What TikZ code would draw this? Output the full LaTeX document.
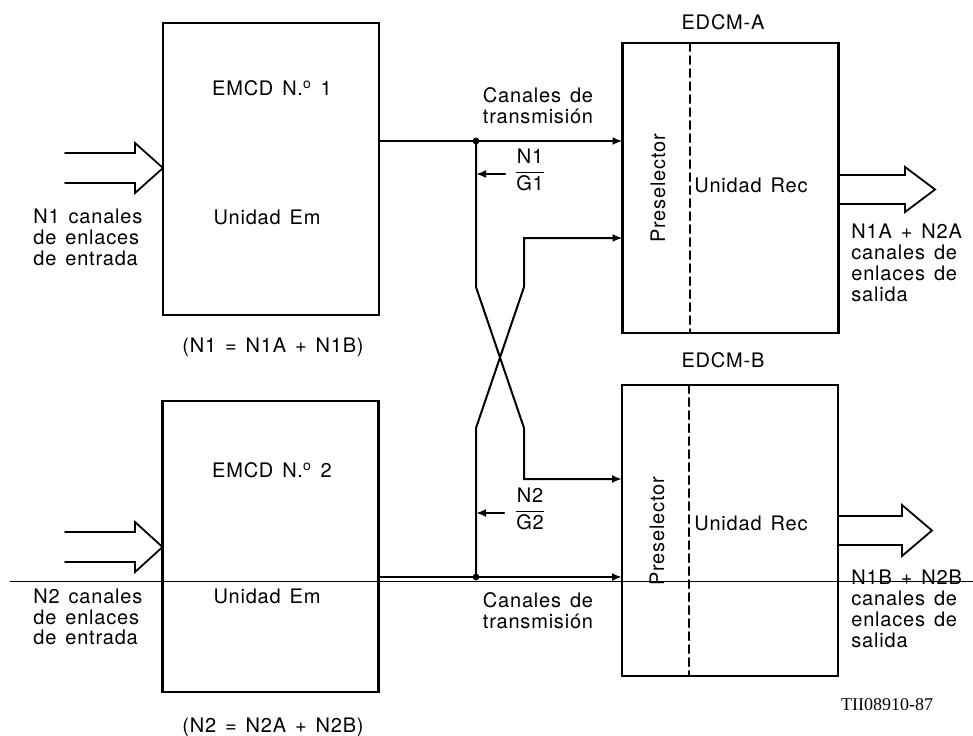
\documentclass[tikz,border=0pt]{standalone}
\usepackage{fontspec}
\setmainfont{TeX Gyre Heros}[LetterSpace=4, WordSpace=1.4]
\newfontfamily\codefont{Liberation Serif}
\usetikzlibrary{arrows.meta, positioning, calc}

\begin{document}
\begin{tikzpicture}[x=0.5pt,y=-0.5pt, line cap=round, >={Latex[length=5pt,width=4pt]},
  unit/.style={draw, line width=1.2pt, minimum width=108pt, inner sep=0pt, outer sep=0pt},
  conn/.style={line width=1pt},
  hollow/.style={line width=0.9pt, line join=miter},
  lbl/.style={font=\fontsize{10}{10.4}\selectfont, inner sep=0pt},
  jdot/.style={circle, fill, inner sep=0pt, minimum size=3.4pt}]

  \useasboundingbox (0,0) rectangle (973,735);

  %--- bloques emisores
  \node[unit, minimum height=146pt] (emcd1) at (271,169) {};
  \node[unit, minimum height=145.5pt] (emcd2) at (270.5,546.5) {};
  \node[lbl] (t1) at (272,88) {EMCD N.\textsuperscript{o} 1};
  \node[lbl] (t2) at (272,470) {EMCD N.\textsuperscript{o} 2};
  \node[lbl] (em1) at (267,217) {Unidad Em};
  \node[lbl] (em2) at (267,596) {Unidad Em};
  \node[lbl] (eq1) at (273,347) {(N1 = N1A + N1B)};
  \node[lbl] (eq2) at (273,727) {(N2 = N2A + N2B)};

  %--- bloques receptores
  \node[unit, minimum height=145pt] (edcmA) at (730.5,188) {};
  \node[unit, minimum height=145.5pt] (edcmB) at (730,530.5) {};
  \node[lbl] (nA) at (723,22) {EDCM-A};
  \node[lbl] (nB) at (723,360) {EDCM-B};
  \draw[line width=1pt, dash pattern=on 4pt off 2.5pt] (690,0 |- edcmA.north) -- (690,0 |- edcmA.south);
  \draw[line width=1pt, dash pattern=on 4pt off 2.5pt] (689,0 |- edcmB.north) -- (689,0 |- edcmB.south);
  \node[lbl, rotate=90] (psA) at (658,188) {Preselector};
  \node[lbl, rotate=90] (psB) at (657,531) {Preselector};
  \node[lbl, anchor=west] (recA) at (694,185) {Unidad Rec};
  \node[lbl, anchor=west] (recB) at (694,523) {Unidad Rec};

  %--- entradas (flechas huecas)
  \draw[hollow] (65,153) -- (135,153) -- (135,143) -- (emcd1.west |- 0,168) -- (135,193) -- (135,183) -- (65,183);
  \draw[hollow] (65,532) -- (135,532) -- (135,522) -- (emcd2.west |- 0,547) -- (135,572) -- (135,562) -- (65,562);
  \node[lbl, anchor=west, align=left] (in1) at (33,237.5) {N1 canales\\de enlaces\\de entrada};
  \node[lbl, anchor=west, align=left] (in2) at (33,617) {N2 canales\\de enlaces\\de entrada};

  %--- salidas (flechas huecas)
  \draw[hollow] (edcmA.east |- 0,175) -- (905,175) -- (905,167) -- (935,189.5) -- (905,212) -- (905,204) -- (edcmA.east |- 0,204);
  \draw[hollow] (edcmB.east |- 0,516) -- (902,516) -- (902,505) -- (932,530.5) -- (902,556) -- (902,545) -- (edcmB.east |- 0,545);
  \node[lbl, anchor=west, align=left] (outA) at (851,263) {N1A + N2A\\canales de\\enlaces de\\salida};
  \node[lbl, anchor=west, align=left] (outB) at (851,609) {N1B + N2B\\canales de\\enlaces de\\salida};

  %--- canales de transmision
  \coordinate (j1) at (476,141);
  \coordinate (j2) at (476,577);
  \coordinate (tA) at (524,238);
  \coordinate (tB) at (524,479);
  \draw[conn,->] (emcd1.east |- j1) -- (edcmA.west |- j1);
  \draw[conn,->] (emcd2.east |- j2) -- (edcmB.west |- j2);
  \draw[conn,->] (j1) -- (476,287) -- (524,428) -- (tB) -- (edcmB.west |- tB);
  \draw[conn,->] (j2) -- (476,428) -- (524,287) -- (tA) -- (edcmA.west |- tA);
  \node[jdot] (d1) at (j1) {};
  \node[jdot] (d2) at (j2) {};
  \node[lbl, align=center] (ct1) at (538,106) {Canales de\\transmisión};
  \node[lbl, align=center] (ct2) at (538,611) {Canales de\\transmisión};

  %--- retorno N/G
  \node[lbl] (f1) at (530,170) {$\displaystyle\frac{\mbox{N1}}{\mbox{G1}}$};
  \node[lbl] (f2) at (530,509) {$\displaystyle\frac{\mbox{N2}}{\mbox{G2}}$};
  \coordinate (a1) at (505,174);
  \coordinate (a2) at (504,513);
  \draw[conn,->] (a1) -- (a1 -| j1);
  \draw[conn,->] (a2) -- (a2 -| j2);

  %--- linea fina y referencia
  \draw[line width=0.5pt] (10,581.5) -- (973,581.5);
  \node[font=\codefont\fontsize{9}{10}\selectfont, inner sep=0pt] (ref) at (887,705) {TII08910-87};
\end{tikzpicture}
\end{document}
